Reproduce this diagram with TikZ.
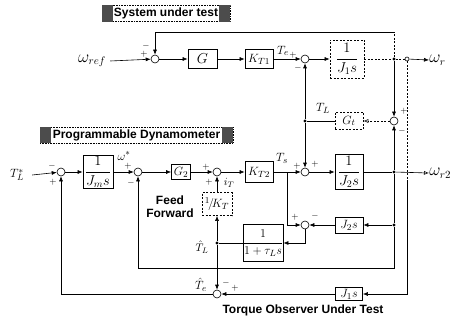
\documentclass[tikz,border=0pt]{standalone}
\usepackage{fontspec}
\newfontfamily\lbl{Liberation Sans}
\usetikzlibrary{arrows.meta,calc}
\newcommand\fs[1]{\fontsize{#1}{#1}\selectfont}
\tikzset{
 blk/.style={draw, line width=0.7pt, inner sep=0pt, font=\fs{13}},
 sumc/.style={circle, draw, line width=0.6pt, minimum size=8pt, inner sep=0pt},
 jdot/.style={circle, fill, minimum size=3.2pt, inner sep=0pt},
 sig/.style={font=\fs{9}, inner sep=0pt},
 lab/.style={font=\fs{13}, inner sep=0pt},
 slab/.style={font=\fs{11}, inner sep=0pt},
 wlab/.style={font=\fs{16}, inner sep=0pt},
 arr/.style={-{Latex[length=5pt,width=4pt]}},
 oarr/.style={-{Latex[open,length=5pt,width=4pt]}},
 dsh/.style={dash pattern=on 2pt off 1.5pt},
 banner/.style={draw, densely dotted, line width=0.6pt, inner sep=0pt, font=\lbl\bfseries\fs{12}},
 tlabel/.style={font=\lbl\bfseries\fs{12}, inner sep=0pt}
}
\begin{document}
\begin{tikzpicture}[x=1pt,y=-1pt,line width=0.6pt]
\useasboundingbox (0,0) rectangle (455,326);

% banners
\node[banner, minimum width=128pt, minimum height=16pt] (sut) at (166,13.5) {System under test};
\fill[black!70] (sut.north west) rectangle ($(sut.south west)+(11,0)$);
\fill[black!70] (sut.north east) rectangle ($(sut.south east)+(-11,0)$);
\node[banner, minimum width=193pt, minimum height=16pt] (pdy) at (136.5,135) {Programmable Dynamometer};
\fill[black!70] (pdy.north west) rectangle ($(pdy.south west)+(11,0)$);
\fill[black!70] (pdy.north east) rectangle ($(pdy.south east)+(-11,0)$);

% top row
\node[wlab] (wref) at (92,61) {$\omega_{ref}$};
\node[sumc] (sA) at (155,59) {};
\node[blk, minimum width=29pt, minimum height=19pt, font=\fs{14}] (bG) at (202.5,59) {$G$};
\node[blk, minimum width=28pt, minimum height=19pt] (bK1) at (259,59) {$K_{T1}$};
\node[sumc] (sB) at (305,59) {};
\node[blk, dsh, minimum width=34pt, minimum height=38pt, font=\fs{14}] (bJ1) at (347,59) {$\displaystyle\frac{1}{J_1 s}$};
\node[jdot] (p1) at (394,59) {};
\node[circle, draw, minimum size=4pt, inner sep=0pt] (so) at (407,59) {};
\node[wlab, anchor=west] (wr) at (429,60) {$\omega_r$};
\coordinate (c1) at (394,32);
\coordinate (c2) at (155,32);

\draw[arr] ([xshift=4pt]wref.east) -- (sA);
\draw[arr] (sA) -- (bG);
\draw[arr] (bG) -- (bK1);
\draw[arr] (bK1) -- (sB);
\draw[arr] (sB) -- (bJ1);
\draw[dsh] (bJ1) -- (p1) -- (so);
\draw[arr] (so) -- (wr.west);
\draw[dsh] (p1) -- (c1);
\draw[arr] (c1) -- (c2) -- (sA);

% middle right
\node[sumc] (sC) at (394,121) {};
\node[blk, dsh, minimum width=28pt, minimum height=17pt] (bGt) at (349,121) {$G_t$};
\node[jdot] (tl) at (305,121) {};

% middle row
\node[lab] (tls) at (17,175) {$T_L^{*}$};
\node[sumc] (sD1) at (61,172) {};
\node[blk, minimum width=30pt, minimum height=33pt, font=\fs{14}] (bJm) at (98,172) {$\displaystyle\frac{1}{J_m s}$};
\node[sumc] (sD2) at (138,172) {};
\node[blk, minimum width=19pt, minimum height=15pt] (bG2) at (181,172) {$G_2$};
\node[sumc] (sD3) at (217,172) {};
\node[blk, minimum width=28pt, minimum height=21pt] (bK2) at (259,172) {$K_{T2}$};
\node[sumc] (sE) at (305,172) {};
\node[blk, minimum width=28pt, minimum height=35pt, font=\fs{14}] (bJ2) at (349,172) {$\displaystyle\frac{1}{J_2 s}$};
\node[jdot] (p2) at (394,172) {};
\node[wlab, anchor=west] (wr2) at (429,173) {$\omega_{r2}$};

\draw[arr] (p1) -- (sC);
\draw[oarr, dsh] (sC) -- (bGt);
\draw (bGt) -- (tl);
\draw[arr] (tl) -- (sB);
\draw[arr] (tl) -- (sE);

\draw[arr] ([xshift=8pt]tls.east) -- (sD1);
\draw[arr] (sD1) -- (bJm);
\draw[arr] (bJm) -- (sD2);
\draw[arr] (sD2) -- (bG2);
\draw[arr] (bG2) -- (sD3);
\draw[arr] (sD3) -- (bK2);
\draw[arr] (bK2) -- (sE);
\draw[arr] (sE) -- (bJ2);
\draw (bJ2) -- (p2);
\draw[oarr] (p2) -- (wr2.west);
\draw[arr] (p2) -- (sC);

% feed forward
\node[blk, dsh, minimum width=30pt, minimum height=23pt] (bKf) at (217,204) {${}^{1}\!/\!K_T$};
\node[jdot] (tlh) at (217,243) {};
\draw[arr] (tlh) -- (bKf);
\draw[arr] (bKf) -- (sD3);
\node[tlabel, align=center] (ff) at (170,207) {Feed\\[1pt]Forward};

% observer
\coordinate (br) at (287,172);
\coordinate (br2) at (287,225);
\node[sumc] (sF) at (305,225) {};
\node[blk, minimum width=28pt, minimum height=16pt] (bJ2s) at (349,225) {$J_2 s$};
\node[jdot] (p3) at (394,225) {};
\node[blk, minimum width=40pt, minimum height=37pt] (btau) at (263,243) {$\displaystyle\frac{1}{1+\tau_L s}$};
\coordinate (c3) at (305,243);
\draw[arr] (br) -- (br2) -- (sF);
\draw (p2) -- (p3);
\draw[arr] (p3) -- (bJ2s);
\draw[arr] (bJ2s) -- (sF);
\draw[arr] (sF) -- (c3) -- (btau);
\draw (btau) -- (tlh);

\coordinate (c4) at (394,268);
\coordinate (c5) at (138,268);
\draw[arr] (p3) -- (c4) -- (c5) -- (sD2);

\node[sumc] (sG) at (217,294) {};
\node[blk, minimum width=27pt, minimum height=13pt] (bJ1s) at (349,294) {$J_1 s$};
\coordinate (c8) at (407,180);
\coordinate (c6) at (407,294);
\coordinate (c7) at (61,294);
\draw[dsh] (so) -- (c8);
\draw[arr] (c8) -- (c6) -- (bJ1s);
\draw[arr] (bJ1s) -- (sG);
\draw[arr] (tlh) -- (sG);
\draw[arr] (sG) -- (c7) -- (sD1);
\node[tlabel] (tout) at (303,310) {Torque Observer Under Test};

% signal labels
\node[lab] (lte) at (283,51) {$T_e$};
\node[lab] (ltl) at (323,108) {$T_L$};
\node[lab] (lts) at (282,158) {$T_s$};
\node[lab] (lws) at (124,156) {$\omega^{*}$};
\node[slab] (lit) at (229,183) {$i_T$};
\node[slab] (lth) at (202,247) {$\hat T_L$};
\node[lab] (lte2) at (201,285) {$\hat T_e$};

% signs
\node[sig] (sa1) at (146,46) {$-$};
\node[sig] (sa2) at (144,54) {$+$};
\node[sig] (sb1) at (293,55) {$+$};
\node[sig] (sb2) at (298,68) {$-$};
\node[sig] (sc1) at (404,111) {$+$};
\node[sig] (sc2) at (402,131) {$-$};
\node[sig] (sd1) at (52,166) {$-$};
\node[sig] (sd2) at (53,182) {$+$};
\node[sig] (sd3) at (128,166) {$+$};
\node[sig] (sd4) at (131,183) {$-$};
\node[sig] (sd5) at (206,167) {$+$};
\node[sig] (sd6) at (209,182) {$+$};
\node[sig] (se1) at (297,166) {$+$};
\node[sig] (se2) at (315,164) {$+$};
\node[sig] (sf1) at (295,217) {$+$};
\node[sig] (sf2) at (315,216) {$-$};
\node[sig] (sg1) at (226,283) {$-$};
\node[sig] (sg2) at (235,288) {$+$};
\end{tikzpicture}
\end{document}
